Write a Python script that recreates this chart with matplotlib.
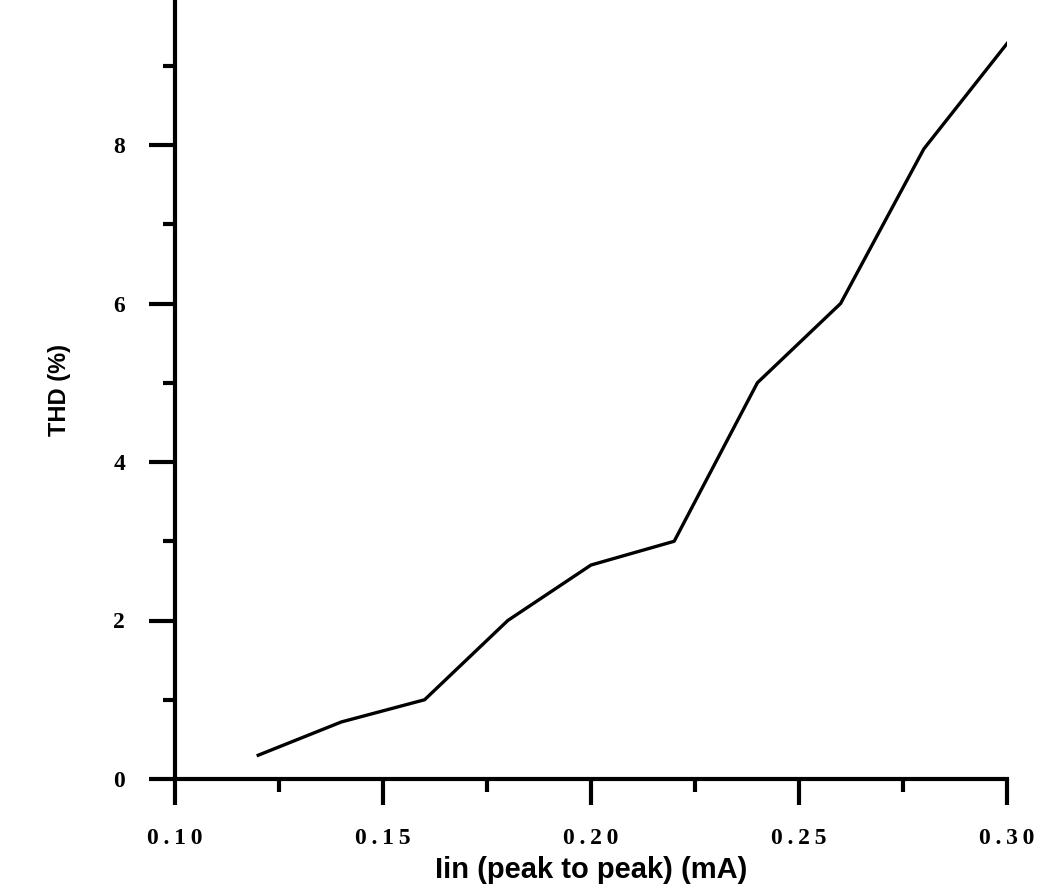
import matplotlib
matplotlib.use("Agg")
import matplotlib.pyplot as plt
from matplotlib.ticker import MultipleLocator, FuncFormatter

iin = [0.12, 0.14, 0.16, 0.18, 0.20, 0.22, 0.24, 0.26, 0.28, 0.30]
thd = [0.3, 0.72, 1.0, 2.0, 2.7, 3.0, 5.0, 6.0, 7.95, 9.28]

SP = "\u2009"

def xfmt(v, pos):
    return SP.join("%.2f" % v)

def yfmt(v, pos):
    return "%d" % round(v)

fig = plt.figure(figsize=(10.49, 8.89), dpi=100)
ax = fig.add_axes([175/1049, 1-779/889, (1007-175)/1049, 779/889])
ax.plot(iin, thd, color="black", lw=2.4)
ax.set_xlim(0.10, 0.30)
ax.set_ylim(0, 779/79.25)

for s in ["top", "right"]:
    ax.spines[s].set_visible(False)
for s in ["left", "bottom"]:
    ax.spines[s].set_linewidth(3)

ax.xaxis.set_major_locator(MultipleLocator(0.05))
ax.xaxis.set_minor_locator(MultipleLocator(0.025))
ax.yaxis.set_major_locator(MultipleLocator(2))
ax.yaxis.set_minor_locator(MultipleLocator(1))
ax.xaxis.set_major_formatter(FuncFormatter(xfmt))
ax.yaxis.set_major_formatter(FuncFormatter(yfmt))
ax.tick_params(which="major", direction="out", length=19, width=3,
               labelsize=17)
ax.tick_params(axis="x", which="major", pad=16)
ax.tick_params(axis="y", which="major", pad=17)
ax.tick_params(which="minor", direction="out", length=9, width=3)
for lab in ax.get_xticklabels() + ax.get_yticklabels():
    lab.set_fontfamily("Liberation Serif")
    lab.set_fontweight("bold")

ax.set_xlabel("Iin (peak to peak) (mA)", fontfamily="Liberation Sans",
              fontweight="bold", fontsize=21, labelpad=5)
ax.set_ylabel("THD (%)", fontfamily="Liberation Sans",
              fontweight="bold", fontsize=17, labelpad=30)

fig.savefig("out.png", dpi=100)
